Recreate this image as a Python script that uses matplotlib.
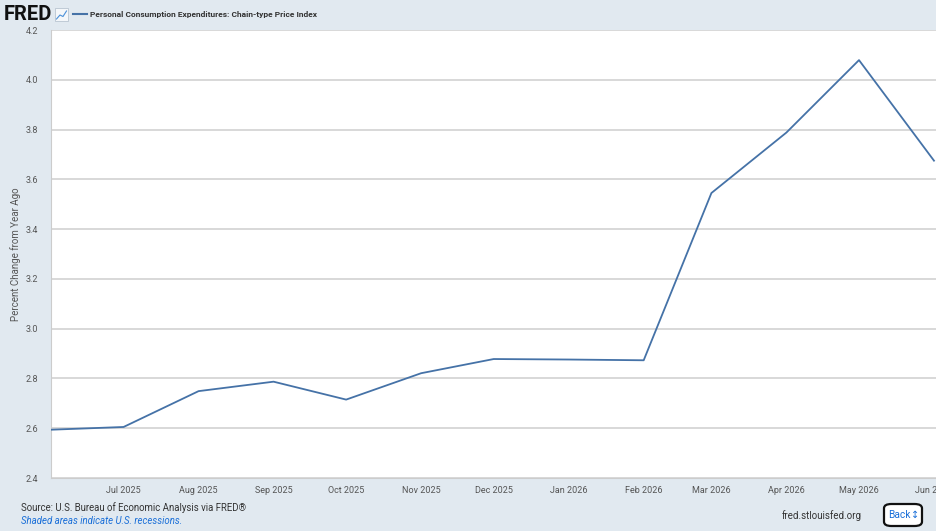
import matplotlib
matplotlib.use('Agg')
import matplotlib.pyplot as plt
import matplotlib.dates as mdates
from matplotlib.patches import FancyBboxPatch
import pandas as pd

# Data
months = ['2025-06-01', '2025-07-01', '2025-08-01', '2025-09-01', '2025-10-01', '2025-11-01',
          '2025-12-01', '2026-01-01', '2026-02-01', '2026-03-01', '2026-04-01', '2026-05-01',
          '2026-06-01']
pce = [2.594, 2.605, 2.749, 2.787, 2.715, 2.821, 2.878, 2.876, 2.873, 3.545, 3.788, 4.079, 3.675]
yticks = [2.4, 2.6, 2.8, 3.0, 3.2, 3.4, 3.6, 3.8, 4.0, 4.2]
xtick_months = ['2025-07-01', '2025-08-01', '2025-09-01', '2025-10-01', '2025-11-01', '2025-12-01',
                '2026-01-01', '2026-02-01', '2026-03-01', '2026-04-01', '2026-05-01', '2026-06-01']

dates = pd.to_datetime(months)
bg = '#E1E9F0'
W, H = 936, 531

plt.rcParams['font.family'] = ['Roboto', 'DejaVu Sans']

fig = plt.figure(figsize=(W / 100, H / 100), dpi=100, facecolor=bg)
ax = fig.add_axes([51 / W, (H - 478) / H, (W - 51) / W, (478 - 30) / H])
ax.set_facecolor('white')

ax.plot(dates, pce, color='#4572A7', lw=1.3, zorder=3)

ax.set_ylim(2.4, 4.2)
ax.set_yticks(yticks)
ax.set_yticklabels(['%.1f' % v for v in yticks])
ax.set_xlim(pd.Timestamp('2025-06-01'), pd.Timestamp('2026-06-01') + pd.Timedelta(hours=20))
ax.set_xticks(pd.to_datetime(xtick_months))
ax.xaxis.set_major_formatter(mdates.DateFormatter('%b %Y'))

ax.grid(axis='y', color='#D6D6D6', lw=1.3)
ax.set_axisbelow(True)
ax.tick_params(axis='both', length=0, labelsize=6.5, labelcolor='#555555')
ax.tick_params(axis='x', pad=6)
ax.tick_params(axis='y', pad=9)
for s in ['top', 'right']:
    ax.spines[s].set_visible(False)
ax.spines['left'].set_color('#CCCCCC')
ax.spines['bottom'].set_color('#CCCCCC')
fig.text(16 / W, 1 - 254 / H, 'Percent Change from Year Ago', fontsize=7, color='#555555',
         rotation=90, ha='center', va='center')

# header
fig.text(4 / W, 1 - 14 / H, 'FRED', fontsize=14.5, fontweight='bold', color='#111111', va='center')
fig.add_artist(FancyBboxPatch((55 / W, 1 - 21 / H), 13 / W, 13 / H, boxstyle='square,pad=0',
                              transform=fig.transFigure, fc='#F4F7FA', ec='#B8C4D0', lw=0.6))
fig.add_artist(plt.Line2D([56.5 / W, 60 / W, 63 / W, 66.5 / W],
                          [1 - 19 / H, 1 - 15 / H, 1 - 16.5 / H, 1 - 11 / H],
                          color='#4A90D9', lw=0.8))
fig.add_artist(plt.Line2D([73 / W, 87 / W], [1 - 14 / H, 1 - 14 / H], color='#4572A7', lw=1.5))
fig.text(90 / W, 1 - 14 / H, 'Personal Consumption Expenditures: Chain-type Price Index',
         fontsize=6, fontweight='bold', color='#333333', va='center')

# footer
fig.text(21 / W, 1 - 508 / H, 'Source: U.S. Bureau of Economic Analysis via FRED\u00ae',
         fontsize=6.9, color='#333333', va='center')
fig.text(21 / W, 1 - 521 / H, 'Shaded areas indicate U.S. recessions.',
         fontsize=6.9, color='#1A6FD8', style='italic', va='center')
fig.text(862 / W, 1 - 516 / H, 'fred.stlouisfed.org', fontsize=7, color='#333333',
         va='center', ha='right')
fig.add_artist(FancyBboxPatch((884 / W, 1 - 526 / H), 38 / W, 22 / H,
                              boxstyle='round,pad=0,rounding_size=0.008',
                              transform=fig.transFigure, fc='white', ec='#111111', lw=1.6))
fig.text(888 / W, 1 - 515 / H, 'Back', fontsize=7.3, color='#1A6FD8', va='center')
fig.text(911 / W, 1 - 515 / H, '\u2195', fontsize=7, color='#1A6FD8', va='center',
         family=['DejaVu Sans'])

fig.savefig('out.png', dpi=100, facecolor=bg)
